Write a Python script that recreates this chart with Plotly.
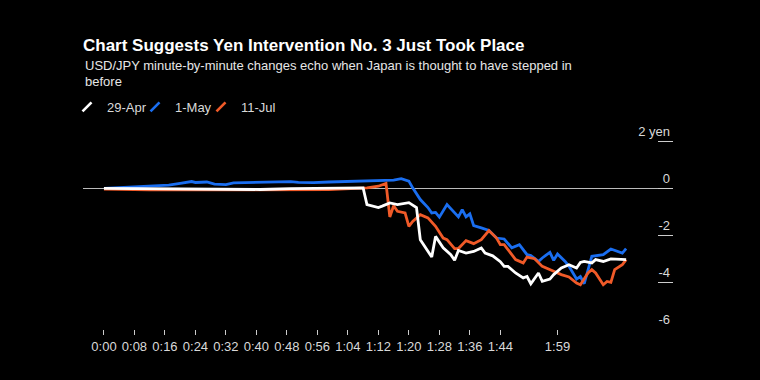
import plotly.graph_objects as go

# ---- data (minute index since start, change in yen) ----
tick_vals = [0, 8, 16, 24, 32, 40, 48, 56, 64, 72, 80, 88, 96, 104, 119]
tick_text = ["0:00", "0:08", "0:16", "0:24", "0:32", "0:40", "0:48", "0:56",
             "1:04", "1:12", "1:20", "1:28", "1:36", "1:44", "1:59"]
y_tick_vals = [-6, -4, -2, 0, 2]
y_tick_text = ["-6", "-4", "-2", "0", "2 yen"]

apr29_x = [0, 12, 25, 36, 41, 49, 59, 68, 69, 72, 73, 75, 77, 80, 82, 83, 86, 87, 89, 91,
           92, 93, 95, 97, 99, 100, 102, 104, 105, 106, 108, 110, 111, 112, 114, 115, 117,
           118, 120, 122, 124, 125, 126, 128, 129, 131, 133, 135, 137]
apr29_y = [0, -0.01, -0.01, -0.05, -0.05, -0.01, 0.01, 0.02, -0.69, -0.82, -0.76, -0.62,
           -0.69, -0.61, -0.82, -2.19, -2.93, -2.05, -2.54, -2.83, -3.07, -2.65, -2.76,
           -2.69, -2.54, -2.76, -2.88, -3.13, -3.33, -3.33, -3.61, -3.82, -3.76, -4.07,
           -3.61, -3.97, -3.87, -3.68, -3.40, -3.26, -3.40, -3.16, -3.12, -3.18, -3.04,
           -3.12, -3.01, -3.01, -3.04]

may1_x = [0, 7, 12, 17, 20, 23, 24, 27, 29, 32, 34, 38, 44, 49, 51, 55, 59, 63, 67, 72,
          76, 78, 80, 81, 82, 83, 85, 86, 87, 88, 90, 93, 94, 95, 96, 97, 99, 101, 103,
          105, 107, 109, 111, 112, 114, 115, 117, 118, 119, 121, 122, 124, 125, 126, 128,
          129, 131, 133, 135, 136, 137]
may1_y = [0, 0.06, 0.10, 0.14, 0.21, 0.29, 0.25, 0.27, 0.18, 0.16, 0.23, 0.25, 0.27, 0.29,
          0.25, 0.24, 0.27, 0.29, 0.33, 0.35, 0.35, 0.41, 0.31, 0.02, -0.26, -0.48, -0.82,
          -1.05, -1.03, -1.23, -0.69, -1.22, -0.91, -1.22, -1.09, -1.59, -1.69, -1.80,
          -2.12, -2.16, -2.54, -2.40, -2.83, -2.87, -3.12, -2.97, -2.73, -3.07, -2.80,
          -3.12, -3.33, -3.87, -3.76, -4.07, -2.90, -2.87, -2.83, -2.59, -2.69, -2.76,
          -2.57]

jul11_x = [0, 12, 25, 41, 59, 69, 72, 74, 75, 76, 77, 79, 80, 81, 83, 85, 87, 89, 90, 92,
           93, 95, 97, 99, 101, 103, 104, 105, 107, 108, 110, 111, 113, 115, 118, 120, 122,
           124, 125, 127, 128, 129, 131, 132, 133, 134, 136, 137]
jul11_y = [-0.03, -0.07, -0.07, -0.07, -0.05, 0.02, 0.09, 0.21, -1.22, -0.74, -0.98, -1.05,
           -1.62, -1.41, -1.12, -1.26, -1.62, -2.12, -2.19, -2.57, -2.57, -2.23, -2.36,
           -2.19, -1.80, -2.12, -2.40, -2.40, -2.83, -3.04, -3.18, -2.93, -3.00, -3.33,
           -3.54, -3.68, -3.78, -4.04, -4.11, -3.61, -3.47, -3.61, -4.11, -3.97, -4.01,
           -3.47, -3.26, -3.04]

series_names = ["29-Apr", "1-May", "11-Jul"]
series_x = [apr29_x, may1_x, jul11_x]
series_y = [apr29_y, may1_y, jul11_y]
series_colors = ["#ffffff", "#1a6ef0", "#f05a28"]

FONT = "Liberation Sans, Arial, sans-serif"
W, H = 760, 380
L, R, T, B = 83, 87, 118, 51
ph = H - T - B
pw = W - L - R


def py(ypx):
    return (H - B - ypx) / ph


def px(xpx):
    return (xpx - L) / pw


fig = go.Figure()
for i in [1, 2, 0]:
    fig.add_trace(go.Scatter(x=series_x[i], y=series_y[i], mode="lines",
                             name=series_names[i],
                             line=dict(color=series_colors[i], width=2.8),
                             showlegend=False, hoverinfo="skip"))

legend_ids = ["legend", "legend2", "legend3"]
legend_symbol_px = [86, 154, 220]
for i in range(3):
    fig.add_trace(go.Scatter(x=[None], y=[None], mode="markers", name=series_names[i],
                             legend=legend_ids[i],
                             marker=dict(symbol="line-ne", size=9,
                                         line=dict(color=series_colors[i], width=2.6))))

legend_common = dict(orientation="h", xanchor="left", y=py(107), yanchor="middle",
                     yref="paper", bgcolor="rgba(0,0,0,0)",
                     font=dict(family=FONT, size=13, color="#d9d9d9"),
                     itemwidth=30)

fig.update_layout(
    width=W, height=H,
    paper_bgcolor="#000000", plot_bgcolor="#000000",
    margin=dict(l=L, r=R, t=T, b=B),
    font=dict(family=FONT, color="#d9d9d9", size=13),
    title=dict(text="<b>Chart Suggests Yen Intervention No. 3 Just Took Place</b>",
               x=0, xref="paper", xanchor="left",
               y=1 - 45 / H, yref="container", yanchor="middle",
               font=dict(family=FONT, size=17, color="#ffffff")),
    showlegend=True,
    legend=dict(x=px(legend_symbol_px[0] - 19), **legend_common),
    legend2=dict(x=px(legend_symbol_px[1] - 19), **legend_common),
    legend3=dict(x=px(legend_symbol_px[2] - 19), **legend_common),
    xaxis=dict(range=[-5.5, 149.3], tickvals=tick_vals, ticktext=tick_text,
               ticks="outside", ticklen=5, tickwidth=1, tickcolor="#cccccc",
               showgrid=False, zeroline=False, showline=False,
               tickfont=dict(size=13, color="#d9d9d9")),
    yaxis=dict(range=[-6, 3], side="right", tickvals=y_tick_vals, ticktext=y_tick_text,
               ticks="inside", ticklen=15, tickwidth=1, tickcolor="#cccccc",
               ticklabelposition="inside top",
               showgrid=False, zeroline=True, zerolinecolor="#bbbbbb", zerolinewidth=1,
               showline=False, tickfont=dict(size=13, color="#d9d9d9")),
    annotations=[
        dict(text="USD/JPY minute-by-minute changes echo when Japan is thought to have stepped in",
             x=0, xref="paper", xanchor="left", y=py(66), yref="paper", yanchor="middle",
             showarrow=False, font=dict(family=FONT, size=13, color="#e6e6e6")),
        dict(text="before",
             x=0, xref="paper", xanchor="left", y=py(81), yref="paper", yanchor="middle",
             showarrow=False, font=dict(family=FONT, size=13, color="#e6e6e6")),
    ],
)

fig.write_html("out.html",
               config={"displayModeBar": False},
               post_script="document.body.style.margin='0';"
                           "document.body.style.background='#000000';")
